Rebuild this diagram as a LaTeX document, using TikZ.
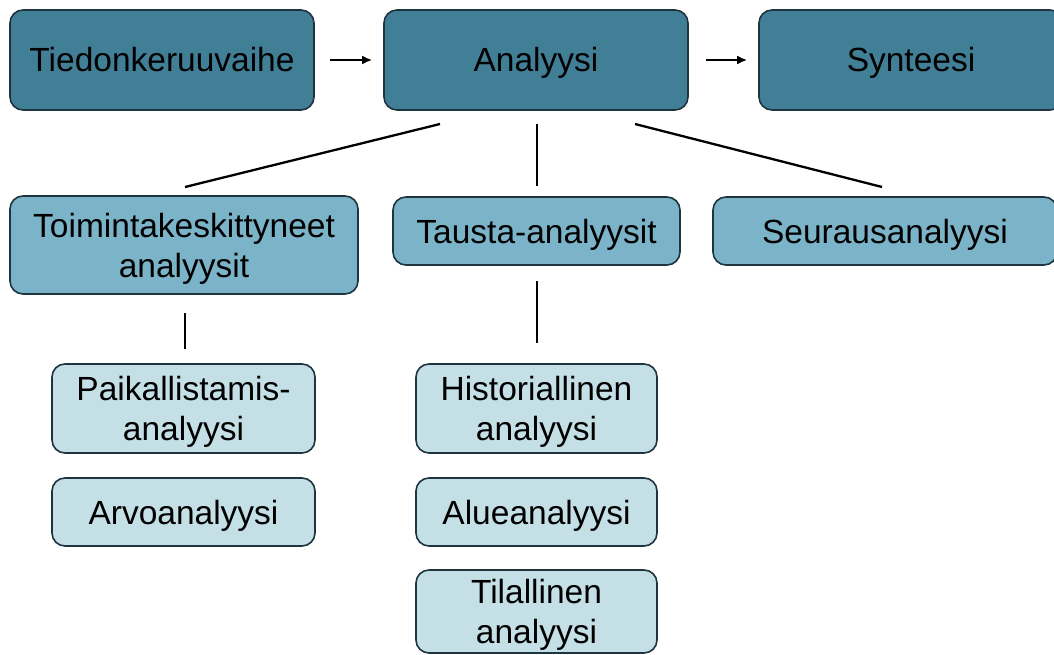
\documentclass[tikz,border=0pt]{standalone}
\usepackage{fontspec}
\setmainfont{Liberation Sans}
\usetikzlibrary{arrows.meta}
\definecolor{cdark}{HTML}{417F97}
\definecolor{cmid}{HTML}{7BB4C8}
\definecolor{clight}{HTML}{C5DFE7}
\definecolor{cline}{HTML}{1E3540}
\newcommand\lnstrut{\rule[-7pt]{0pt}{38pt}}
\begin{document}
\begin{tikzpicture}[x=1pt,y=-1pt,
  box/.style={draw=cline,line width=1.6pt,rounded corners=13pt,align=center,
    font=\fontsize{33.5}{40}\selectfont,inner sep=0pt},
  lvlone/.style={box,fill=cdark},
  lvltwo/.style={box,fill=cmid},
  lvlthree/.style={box,fill=clight},
  conn/.style={line width=2.3pt,black},
  arr/.style={conn,-{Latex[length=10pt,width=9pt]}}]
\useasboundingbox (0,0) rectangle (1054,655);
\node[lvlone,minimum width=304pt,minimum height=100pt] (tied) at (162,60) {\lnstrut Tiedonkeruuvaihe};
\node[lvlone,minimum width=304pt,minimum height=100pt] (ana) at (536,60) {\lnstrut Analyysi};
\node[lvlone,minimum width=304pt,minimum height=100pt] (syn) at (911,60) {\lnstrut Synteesi};
\node[lvltwo,minimum width=348pt,minimum height=98pt] (toim) at (184,245) {\lnstrut Toimintakeskittyneet\\\lnstrut analyysit};
\node[lvltwo,minimum width=287pt,minimum height=68pt] (taus) at (536.5,231) {\lnstrut Tausta-analyysit};
\node[lvltwo,minimum width=344pt,minimum height=68pt] (seur) at (885,231) {\lnstrut Seurausanalyysi};
\node[lvlthree,minimum width=263pt,minimum height=89pt] (paik) at (183.5,408.5) {\lnstrut Paikallistamis-\\\lnstrut analyysi};
\node[lvlthree,minimum width=263pt,minimum height=68pt] (arvo) at (183.5,512) {\lnstrut Arvoanalyysi};
\node[lvlthree,minimum width=241pt,minimum height=89pt] (hist) at (536.5,408.5) {\lnstrut Historiallinen\\\lnstrut analyysi};
\node[lvlthree,minimum width=241pt,minimum height=68pt] (alue) at (536.5,512) {\lnstrut Alueanalyysi};
\node[lvlthree,minimum width=241pt,minimum height=83pt] (tila) at (536.5,611.5) {\lnstrut Tilallinen\\\lnstrut analyysi};
\draw[arr] ([xshift=15pt]tied.east) -- ([xshift=-11pt]ana.west);
\draw[arr] ([xshift=17pt]ana.east) -- ([xshift=-11pt]syn.west);
\coordinate (a1) at (440,124);
\coordinate (a2) at (537,124);
\coordinate (a3) at (635,124);
\coordinate (b1) at (185,187);
\coordinate (b2) at (537,186);
\coordinate (b3) at (882,187);
\draw[conn] (a1) -- (b1);
\draw[conn] (a2) -- (b2);
\draw[conn] (a3) -- (b3);
\coordinate (c1) at (185,313);
\coordinate (d1) at (185,349);
\coordinate (c2) at (537,281);
\coordinate (d2) at (537,343);
\draw[conn] (c1) -- (d1);
\draw[conn] (c2) -- (d2);
\end{tikzpicture}
\end{document}
